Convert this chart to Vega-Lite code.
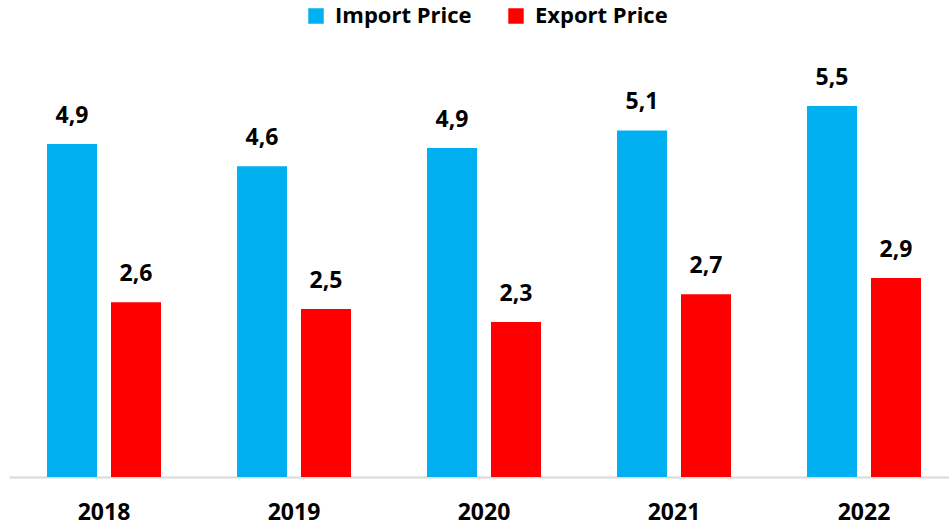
{
  "$schema": "https://vega.github.io/schema/vega-lite/v6.json",
  "autosize": "none",
  "width": 950,
  "height": 437,
  "padding": {"left": 9, "top": 40, "right": 0, "bottom": 53},
  "background": "white",
  "config": {
    "view": {"stroke": null},
    "font": "Open Sans",
    "locale": {"number": {"decimal": ",", "thousands": ".", "grouping": [3], "currency": ["", ""]}}
  },
  "data": {
    "values": [
      {"year": "2018", "series": "Import Price", "value": 4.92},
      {"year": "2018", "series": "Export Price", "value": 2.58},
      {"year": "2019", "series": "Import Price", "value": 4.59},
      {"year": "2019", "series": "Export Price", "value": 2.48},
      {"year": "2020", "series": "Import Price", "value": 4.86},
      {"year": "2020", "series": "Export Price", "value": 2.29},
      {"year": "2021", "series": "Import Price", "value": 5.12},
      {"year": "2021", "series": "Export Price", "value": 2.70},
      {"year": "2022", "series": "Import Price", "value": 5.48},
      {"year": "2022", "series": "Export Price", "value": 2.94}
    ]
  },
  "encoding": {
    "x": {
      "field": "year", "type": "nominal",
      "scale": {"paddingInner": 0.4, "paddingOuter": 0.2},
      "axis": {
        "title": null, "labelAngle": 0, "ticks": false,
        "domainColor": "#D9D9D9", "domainWidth": 2,
        "labelFont": "Open Sans", "labelFontWeight": "bold", "labelFontSize": 23,
        "labelColor": "#000000", "labelPadding": 24
      }
    },
    "xOffset": {
      "field": "series", "type": "nominal",
      "sort": ["Import Price", "Export Price"],
      "scale": {"paddingInner": 0.21875, "paddingOuter": 0}
    },
    "y": {
      "field": "value", "type": "quantitative",
      "scale": {"domain": [0, 6.455], "nice": false, "zero": true},
      "axis": null
    }
  },
  "layer": [
    {
      "mark": {"type": "bar"},
      "encoding": {
        "color": {
          "field": "series", "type": "nominal",
          "sort": ["Import Price", "Export Price"],
          "scale": {"domain": ["Import Price", "Export Price"], "range": ["#00B0F0", "#FF0000"]},
          "legend": {
            "title": null, "orient": "none", "direction": "horizontal",
            "legendX": 296, "legendY": -35,
            "symbolType": "square", "symbolSize": 240, "symbolStrokeWidth": 0,
            "labelFont": "Open Sans", "labelFontWeight": "bold", "labelFontSize": 22,
            "labelColor": "#000000", "labelOffset": 8, "columnPadding": 33
          }
        }
      }
    },
    {
      "mark": {"type": "text", "dy": -21, "baseline": "alphabetic", "font": "Open Sans", "fontWeight": "bold", "fontSize": 23, "color": "#000000"},
      "encoding": {
        "text": {"field": "value", "type": "quantitative", "format": ".1f"}
      }
    }
  ]
}
